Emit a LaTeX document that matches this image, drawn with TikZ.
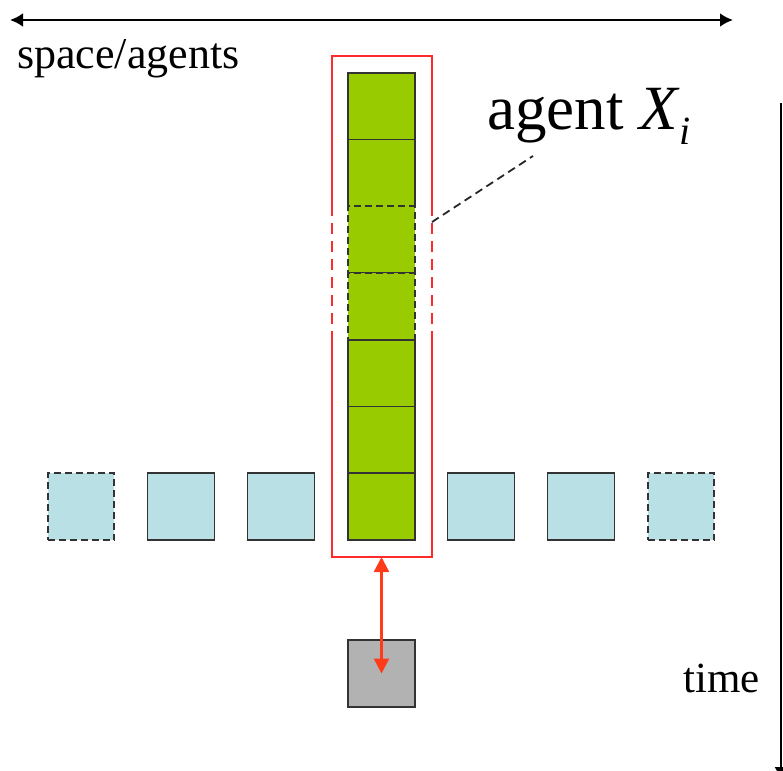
\documentclass[tikz,border=0pt]{standalone}
\usepackage{fontspec}
\setmainfont{Liberation Serif}
\usepackage{tikz}
\usetikzlibrary{arrows.meta,calc}
\tikzset{>=latex}
\definecolor{agentcol}{HTML}{99CC00}
\definecolor{spacecol}{HTML}{B9E0E4}
\definecolor{envcol}{HTML}{B2B2B2}
\definecolor{framecol}{HTML}{FF2A2A}
\definecolor{linkcol}{HTML}{FF3B1A}
\tikzstyle{cell}=[draw=black!80,line width=1.6pt,minimum size=66.7pt,inner sep=0,outer sep=0]
\tikzstyle{agent}=[cell,fill=agentcol]
\tikzstyle{agent hidden}=[agent,line width=2pt,dash pattern=on 7pt off 4pt]
\tikzstyle{space}=[cell,fill=spacecol]
\tikzstyle{space hidden}=[space,line width=2pt,dash pattern=on 7pt off 4pt]
\tikzstyle{env}=[cell,fill=envcol]
\tikzstyle{frame}=[framecol,line width=1.6pt]
\tikzstyle{axis}=[line width=2.6pt,{Latex[length=13pt,width=14pt]}-{Latex[length=13pt,width=14pt]}]
\tikzstyle{link}=[linkcol,line width=2.4pt,{Triangle[length=15pt,width=15pt]}-{Triangle[length=15pt,width=15pt]}]
\def\cx{381.5}
\def\h{66.7}
\begin{document}
\begin{tikzpicture}[x=1pt,y=-1pt]
  \useasboundingbox (0,0) rectangle (783,770);

  % AXES
  \coordinate (spaceL) at (10,20);
  \coordinate (spaceR) at (733,20);
  \draw[axis] (spaceL) -- (spaceR);
  \node[anchor=base west,inner sep=0,font=\fontsize{44}{50}\selectfont] (spacelab) at (17,69) {space/agents};
  \coordinate (timeT) at (780.5,103);
  \coordinate (timeB) at (780.5,780);
  \draw[line width=2pt,-{Latex[length=13pt,width=12pt]}] (timeT) -- (timeB);
  \node[anchor=base west,inner sep=0,font=\fontsize{43}{50}\selectfont] (timelab) at (683,692) {time};

  % AGENT COLUMN
  \foreach \k in {0,...,6}{
    \ifnum\k=2 \def\st{agent hidden}\else\ifnum\k=3 \def\st{agent hidden}\else\def\st{agent}\fi\fi
    \node[\st] (a\k) at (\cx,{73+\h/2+\k*\h}) {};
  }

  % SPACE ROW
  \foreach \k/\st in {0/space hidden,1/space,2/space,4/space,5/space,6/space hidden}
    \node[\st] (s\k) at ({81+\k*100},506.5) {};

  % FRAME OF AGENT
  \draw[frame] (332,205) -- (332,56) -- (432,56) -- (432,205);
  \draw[frame,dash pattern=on 11pt off 7pt] (332,205) -- (332,332);
  \draw[frame,dash pattern=on 11pt off 7pt] (432,205) -- (432,332);
  \draw[frame] (332,332) -- (332,557) -- (432,557) -- (432,332);
  \coordinate (frameS) at (\cx,557);

  % LABEL
  \node[anchor=base west,inner sep=0,font=\fontsize{63}{70}\selectfont] (agentlab) at (487,130)
    {agent \textit{X}\raisebox{-15pt}{\fontsize{40}{44}\selectfont\textit{i}}};
  \coordinate (leadA) at (432,222);
  \coordinate (leadB) at (533,156);
  \draw[line width=1.8pt,dash pattern=on 8pt off 5pt,black!85] (leadA) -- (leadB);

  % ENVIRONMENT
  \node[env] (env) at (\cx,673.5) {};
  \draw[link] (frameS) -- (env.center);

\end{tikzpicture}
\end{document}
